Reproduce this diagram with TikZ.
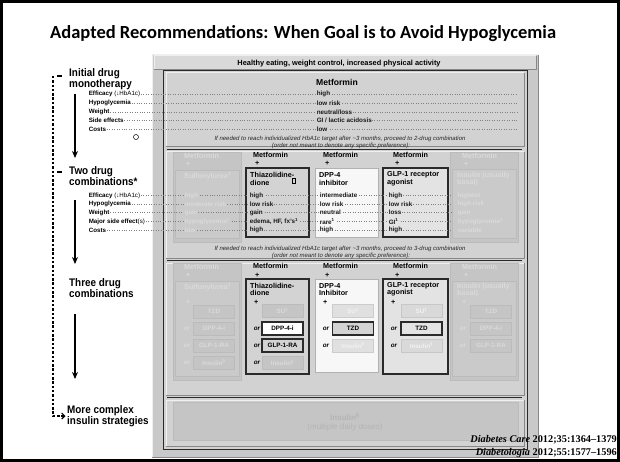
\documentclass[tikz,border=0pt]{standalone}
\usepackage{fontspec}
\setmainfont{Liberation Sans}
\newfontfamily\hvn[FakeStretch=0.9]{Liberation Sans}
\newfontfamily\calfont{Carlito}
\newfontfamily\tmsfont{Liberation Serif}
\usetikzlibrary{arrows.meta}
\definecolor{pnl}{HTML}{C9C9C9}
\definecolor{sec}{HTML}{D2D2D2}
\definecolor{barc}{HTML}{D9D9D9}
\definecolor{hic}{HTML}{EFEFEF}
\definecolor{loc}{HTML}{878787}
\definecolor{fbox}{HTML}{C5C5C5}
\definecolor{fin}{HTML}{CACACA}
\definecolor{fedge}{HTML}{BBBBBB}
\definecolor{ftxt}{HTML}{DADADA}
\definecolor{dk}{HTML}{2A2A2A}
\definecolor{tzdf}{HTML}{D3D3D3}
\definecolor{glpf}{HTML}{E3E3E3}
\definecolor{dppf}{HTML}{F7F7F7}
\definecolor{btxt}{HTML}{B4B4B4}
\newcommand\mybevel[4]{%
  \draw[hic, line width=1] (#1,#4) -- (#1,#2) -- (#3,#2);
  \draw[loc, line width=1] (#3,#2) -- (#3,#4) -- (#1,#4);}
\tikzset{
  val/.style={font=\bfseries\fontsize{6.3}{7}\selectfont, anchor=west, inner sep=0.6pt, text=black!90},
  fval/.style={val, text=ftxt, fill=fin},
  hdr/.style={font=\bfseries\fontsize{7.2}{8}\selectfont, anchor=west, inner sep=0},
  fhdr/.style={hdr, text=ftxt},
  big/.style={font=\hvn\bfseries\fontsize{11}{10}\selectfont, align=left, anchor=west, inner sep=0},
  slab/.style={font=\bfseries\fontsize{6.2}{7}\selectfont, anchor=west, inner sep=0.6pt},
  instr/.style={font=\itshape\fontsize{6}{7}\selectfont, text=black!85, inner sep=0},
  optbox/.style={draw, minimum width=41pt, minimum height=13pt, inner sep=0, font=\bfseries\fontsize{6.3}{7}\selectfont},
  fopt/.style={optbox, fill=fbox, draw=fedge, line width=0.8, text=ftxt},
  orlbl/.style={font=\bfseries\itshape\fontsize{6.3}{7}\selectfont, inner sep=0},
  forlbl/.style={orlbl, text=ftxt},
  dotline/.style={draw=black!50, dotted, line width=0.45},
  mainarrow/.style={line width=1.6, -{Stealth[length=7pt,width=6pt]}}
}
\begin{document}
\begin{tikzpicture}[x=1pt,y=-1pt]
\useasboundingbox (0,0) rectangle (620,462);
\fill[white] (0,0) rectangle (620,462);
\draw[line width=3] (1.5,1.5) rectangle (618.5,460.5);

% title
\node[font=\calfont\bfseries\fontsize{18.5}{21}\selectfont, anchor=west, inner sep=0] (title) at (50,34) {Adapted Recommendations: When Goal is to Avoid Hypoglycemia};

% ---------- panel ----------
\fill[pnl] (152,55) rectangle (538,457);
\mybevel{152}{55}{538}{457}
\fill[barc] (154,56) rectangle (536,70);
\mybevel{154}{56}{536}{70}
\fill[sec] (163,71) rectangle (527,449);
\draw[dk, line width=1] (163,71) rectangle (527,449);
\mybevel{166}{73}{524}{147}
\mybevel{166}{152}{524}{258}
\mybevel{166}{263}{524}{395}
\mybevel{166}{400}{524}{446}
\draw[dk, line width=1.5] (167,149.5) -- (522,149.5);
\draw[dk, line width=1.5] (167,260.5) -- (522,260.5);
\draw[dk, line width=1.5] (167,397.5) -- (522,397.5);

% two-drug column boxes
\draw[fill=fbox, draw=fedge] (173,152) rectangle (241,242);
\draw[fill=fin, draw=fedge] (175,170) rectangle (239,238);
\draw[fill=fbox, draw=fedge] (450,152) rectangle (518,242);
\draw[fill=fin, draw=fedge] (452,169) rectangle (516,238);
\draw[fill=tzdf, draw=dk, line width=1.6] (246,168) rectangle (309,237);
\draw[fill=dppf, draw=black!30, line width=1] (315,169) rectangle (378,237);
\draw[fill=glpf, draw=dk, line width=1.6] (383,168) rectangle (448,237);

% three-drug column boxes
\draw[fill=fbox, draw=fedge] (173,263) rectangle (241,380);
\draw[fill=fin, draw=fedge] (175,281) rectangle (239,376);
\draw[fill=fbox, draw=fedge] (450,263) rectangle (518,380);
\draw[fill=fin, draw=fedge] (452,281) rectangle (516,376);
\draw[fill=tzdf, draw=dk, line width=1.6] (246,279) rectangle (309,374);
\draw[fill=dppf, draw=black!30, line width=1] (315,279) rectangle (378,372);
\draw[fill=glpf, draw=dk, line width=1.6] (383,279) rectangle (448,374);

% bottom faded box
\draw[fill=fbox, draw=fedge] (173,402) rectangle (518,440);

% header bar text
\node[font=\bfseries\fontsize{7.4}{8}\selectfont, inner sep=0] (hb) at (339,63.5) {Healthy eating, weight control, increased physical activity};

% ---------- left side ----------
\node[big] (l1) at (69,79) {Initial drug\\monotherapy};
\node[big] (l2) at (69,176) {Two drug\\combinations*};
\node[big] (l3) at (69,288) {Three drug\\combinations};
\node[big] (l4) at (67,416) {More complex\\insulin strategies};
\coordinate (dtop) at (53,76);
\draw[line width=1.1, dash pattern=on 2.5pt off 1.8pt, -{Straight Barb[length=3pt,width=6pt]}, shorten >=1.5pt] (dtop) |- (l4.west);
\draw[line width=1.3] (57,76) -- (61.5,76);
\draw[line width=1.3] (57,172) -- (61.5,172);
\coordinate (a1s) at (75,94);  \coordinate (a1e) at (75,158);
\coordinate (a2s) at (75,200); \coordinate (a2e) at (75,264);
\coordinate (a3s) at (75,314); \coordinate (a3e) at (75,379);
\draw[mainarrow] (a1s) -- (a1e);
\draw[mainarrow] (a2s) -- (a2e);
\draw[mainarrow] (a3s) -- (a3e);

\node[slab] (e1) at (88,94) {Efficacy {\mdseries(↓HbA1c)}};
\node[slab] (e2) at (88,103) {Hypoglycemia};
\node[slab] (e3) at (88,112) {Weight};
\node[slab] (e4) at (88,120.5) {Side effects};
\node[slab] (e5) at (88,129) {Costs};
\node[slab] (f1) at (88,195.5) {Efficacy {\mdseries(↓HbA1c)}};
\node[slab] (f2) at (88,204) {Hypoglycemia};
\node[slab] (f3) at (88,212.5) {Weight};
\node[slab] (f4) at (88,221.5) {Major side effect{\mdseries(s)}};
\node[slab] (f5) at (88,230) {Costs};
\node[circle, draw, line width=0.5, minimum size=5pt, inner sep=0, fill=white] (cur) at (136,137) {};

\coordinate (rendA) at (518,0);
\coordinate (rendB) at (451,0);
\foreach \n in {e1,e2,e3,e4,e5} {\draw[dotline] (\n.east) -- (\n.east -| rendA);}
\foreach \n in {f1,f2,f3,f4,f5} {\draw[dotline] (\n.east) -- (\n.east -| rendB);}

% ---------- monotherapy ----------
\node[font=\bfseries\fontsize{8.6}{9}\selectfont, inner sep=0] (met) at (337,82) {Metformin};
\node[val, fill=sec] (m1) at (316,94) {high};
\node[val, fill=sec] (m2) at (316,103) {low risk};
\node[val, fill=sec] (m3) at (316,112) {neutral/loss};
\node[val, fill=sec] (m4) at (316,120.5) {GI / lactic acidosis};
\node[val, fill=sec] (m5) at (316,129) {low};
\node[instr] (i1) at (340,139) {If needed to reach individualized HbA1c target after \textasciitilde3 months, proceed to 2-drug combination};
\node[instr] (i1b) at (341,145.5) {(order not meant to denote any specific preference):};

% ---------- two-drug ----------
% col1 faded
\node[fhdr] (c1h) at (184,156) {Metformin};
\node[fhdr] (c1p) at (186,164) {+};
\node[fhdr] (c1d) at (184,176) {Sulfonylurea\textsuperscript{1}};
\node[fval] (c1v1) at (184,195.5) {high};
\node[fval] (c1v2) at (184,204) {moderate risk};
\node[fval] (c1v3) at (184,212.5) {gain};
\node[fval] (c1v4) at (184,221.5) {hypoglycemia\textsuperscript{1}};
\node[fval] (c1v5) at (184,230) {low};
% col2
\node[hdr] (c2h) at (253,155) {Metformin};
\node[hdr] (c2p) at (255,163) {+};
\node[hdr] (c2d) at (250,175) {Thiazolidine-};
\node[hdr] (c2d2) at (250,183) {dione};
\node[draw, line width=0.6, minimum width=2.5pt, minimum height=4.5pt, inner sep=0] (mk) at (294,181) {};
\node[val, fill=tzdf] (c2v1) at (249,195.5) {high};
\node[val, fill=tzdf] (c2v2) at (249,204) {low risk};
\node[val, fill=tzdf] (c2v3) at (249,212.5) {gain};
\node[val, fill=tzdf] (c2v4) at (249,221.5) {edema, HF, fx's\textsuperscript{1}};
\node[val, fill=tzdf] (c2v5) at (249,230) {high};
% col3
\node[hdr] (c3h) at (323,155) {Metformin};
\node[hdr] (c3p) at (325,163) {+};
\node[hdr] (c3d) at (319,175) {DPP-4};
\node[hdr] (c3d2) at (319,183) {inhibitor};
\node[val, fill=dppf] (c3v1) at (319,195.5) {intermediate};
\node[val, fill=dppf] (c3v2) at (319,204) {low risk};
\node[val, fill=dppf] (c3v3) at (319,212.5) {neutral};
\node[val, fill=dppf] (c3v4) at (319,221.5) {rare\textsuperscript{1}};
\node[val, fill=dppf] (c3v5) at (319,230) {high};
% col4
\node[hdr] (c4h) at (393,155) {Metformin};
\node[hdr] (c4p) at (395,163) {+};
\node[hdr] (c4d) at (387,175) {GLP-1 receptor};
\node[hdr] (c4d2) at (387,183) {agonist};
\node[val, fill=glpf] (c4v1) at (388,195.5) {high};
\node[val, fill=glpf] (c4v2) at (388,204) {low risk};
\node[val, fill=glpf] (c4v3) at (388,212.5) {loss};
\node[val, fill=glpf] (c4v4) at (388,221.5) {GI\textsuperscript{1}};
\node[val, fill=glpf] (c4v5) at (388,230) {high};
% col5 faded
\node[fhdr] (c5h) at (462,156) {Metformin};
\node[fhdr] (c5p) at (464,164) {+};
\node[fhdr] (c5d) at (457,176) {Insulin (usually};
\node[fhdr] (c5d2) at (457,183) {basal)};
\node[fval] (c5v1) at (457,195.5) {highest};
\node[fval] (c5v2) at (457,204) {high risk};
\node[fval] (c5v3) at (457,212.5) {gain};
\node[fval] (c5v4) at (457,221.5) {hypoglycemia\textsuperscript{1}};
\node[fval] (c5v5) at (457,230) {variable};

\node[instr] (i2) at (340,249) {If needed to reach individualized HbA1c target after \textasciitilde3 months, proceed to 3-drug combination};
\node[instr] (i2b) at (341,256) {(order not meant to denote any specific preference):};

% ---------- three-drug ----------
% col1 faded
\node[fhdr] (t1h) at (184,267) {Metformin};
\node[fhdr] (t1p) at (186,275) {+};
\node[fhdr] (t1d) at (184,287) {Sulfonylurea\textsuperscript{1}};
\node[fhdr] (t1p2) at (186,302) {+};
\node[fopt] (t1o1) at (214,311.5) {TZD};
\node[fopt] (t1o2) at (214,328.5) {DPP-4-i};
\node[fopt] (t1o3) at (214,345.5) {GLP-1-RA};
\node[fopt] (t1o4) at (214,362.5) {Insulin\textsuperscript{§}};
\node[forlbl] (t1r2) at (187,328.5) {or};
\node[forlbl] (t1r3) at (187,345.5) {or};
\node[forlbl] (t1r4) at (187,362.5) {or};
% col2
\node[hdr] (t2h) at (253,266) {Metformin};
\node[hdr] (t2p) at (255,275) {+};
\node[hdr] (t2d) at (250,286) {Thiazolidine-};
\node[hdr] (t2d2) at (250,293) {dione};
\node[hdr] (t2p2) at (254,302) {+};
\node[fopt] (t2o1) at (282.5,311) {SU\textsuperscript{1}};
\node[optbox, fill=white, draw=dk, line width=1.1] (t2o2) at (282.5,328.5) {DPP-4-i};
\node[optbox, fill=tzdf, draw=dk, line width=1.6] (t2o3) at (282.5,345.5) {GLP-1-RA};
\node[fopt] (t2o4) at (282.5,363) {Insulin\textsuperscript{§}};
\node[orlbl] (t2r2) at (257,328.5) {or};
\node[orlbl] (t2r3) at (257,345.5) {or};
\node[orlbl] (t2r4) at (257,363) {or};
% col3
\node[hdr] (t3h) at (323,266) {Metformin};
\node[hdr] (t3p) at (325,275) {+};
\node[hdr] (t3d) at (319,286) {DPP-4};
\node[hdr] (t3d2) at (319,293) {Inhibitor};
\node[hdr] (t3p2) at (323,302) {+};
\node[fopt, fill=black!12, draw=black!20, text=black!5] (t3o1) at (353,311) {SU\textsuperscript{1}};
\node[optbox, fill=tzdf, draw=dk, line width=1.6] (t3o2) at (353,328.5) {TZD};
\node[fopt, fill=black!12, draw=black!20, text=black!5] (t3o3) at (353,345.5) {Insulin\textsuperscript{§}};
\node[orlbl] (t3r2) at (326,328.5) {or};
\node[orlbl] (t3r3) at (326,345.5) {or};
% col4
\node[hdr] (t4h) at (393,266) {Metformin};
\node[hdr] (t4p) at (395,275) {+};
\node[hdr] (t4d) at (387,286) {GLP-1 receptor};
\node[hdr] (t4d2) at (387,293) {agonist};
\node[hdr] (t4p2) at (391,302) {+};
\node[fopt, fill=black!15, draw=black!22, text=black!5] (t4o1) at (421.5,311) {SU\textsuperscript{1}};
\node[optbox, fill=glpf, draw=dk, line width=1.6] (t4o2) at (421.5,328.5) {TZD};
\node[fopt, fill=black!15, draw=black!22, text=black!5] (t4o3) at (421.5,345.5) {Insulin\textsuperscript{§}};
\node[orlbl] (t4r2) at (394,328.5) {or};
\node[orlbl] (t4r3) at (394,345.5) {or};
% col5 faded
\node[fhdr] (t5h) at (462,267) {Metformin};
\node[fhdr] (t5p) at (464,275) {+};
\node[fhdr] (t5d) at (457,287) {Insulin (usually};
\node[fhdr] (t5d2) at (457,294) {basal)};
\node[fhdr] (t5p2) at (462,302) {+};
\node[fopt] (t5o1) at (491,311.5) {TZD};
\node[fopt] (t5o2) at (491,328.5) {DPP-4-i};
\node[fopt] (t5o3) at (491,345.5) {GLP-1-RA};
\node[forlbl] (t5r2) at (463,328.5) {or};
\node[forlbl] (t5r3) at (463,345.5) {or};

% ---------- bottom ----------
\node[font=\bfseries\fontsize{8}{9}\selectfont, text=btxt, inner sep=0] (ins) at (345,417) {Insulin\textsuperscript{§}};
\node[font=\fontsize{8}{9}\selectfont, text=btxt, inner sep=0] (ins2) at (345,427) {(multiple daily doses)};

% citations
\node[anchor=east, font=\tmsfont\bfseries\fontsize{10.3}{11}\selectfont, inner sep=0] (cit1) at (617,440) {\textit{Diabetes Care} 2012;35:1364–1379};
\node[anchor=east, font=\tmsfont\bfseries\fontsize{10.3}{11}\selectfont, inner sep=0] (cit2) at (617,453) {\textit{Diabetologia} 2012;55:1577–1596};
\end{tikzpicture}
\end{document}
